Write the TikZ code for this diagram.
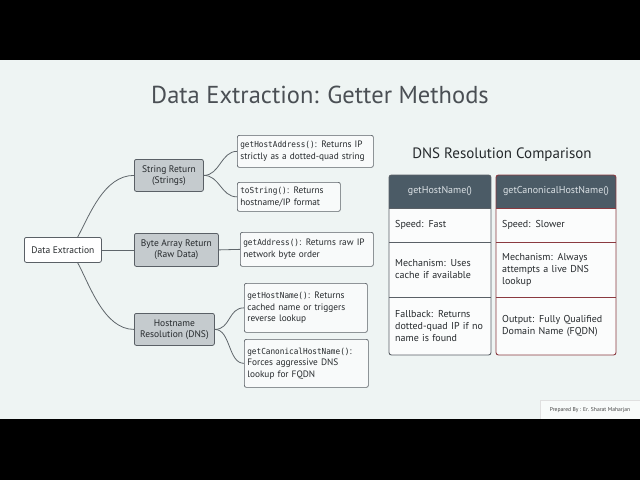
\documentclass[tikz,border=0pt]{standalone}
\usepackage{fontspec}
\setmainfont{PT Sans}
\setmonofont{DejaVu Sans Mono}[FakeStretch=0.93]
\usetikzlibrary{calc}
\newcommand\mcode[1]{{\fontsize{8.3}{11}\selectfont\ttfamily #1}}
\definecolor{bg}{HTML}{EEF4F3}
\definecolor{edgec}{HTML}{5F666B}
\definecolor{midfill}{HTML}{C5CBCE}
\definecolor{leaffill}{HTML}{F8FAFA}
\definecolor{bordc}{HTML}{5A6066}
\definecolor{txt}{HTML}{25292C}
\definecolor{titlec}{HTML}{4A4F54}
\definecolor{hdrfill}{HTML}{4B5B66}
\definecolor{hdrtxt}{HTML}{DCE2E6}
\definecolor{redbd}{HTML}{8A3A40}
\definecolor{cellfill}{HTML}{FBFCFC}
\tikzset{
  midbox/.style={draw=bordc, fill=midfill, rounded corners=2pt, line width=0.8pt, align=center,
    font=\fontsize{9.5}{11}\selectfont, text=txt, inner sep=0pt, anchor=north west},
  rootbox/.style={midbox, fill=white},
  leafbox/.style={draw=bordc, fill=leaffill, rounded corners=2pt, line width=0.7pt, align=left,
    font=\fontsize{9.3}{11.5}\selectfont, text=txt, inner xsep=3pt, inner ysep=0pt, anchor=north west},
  edge/.style={draw=edgec, line width=0.8pt},
  cell/.style={anchor=west, align=left, font=\fontsize{10}{12}\selectfont, text=txt, inner sep=0pt, text width=92pt},
  hdr/.style={font=\fontsize{10}{12}\selectfont, text=hdrtxt, inner sep=0pt}
}
\begin{document}
\begin{tikzpicture}[x=1pt,y=-1pt]
\useasboundingbox (0,0) rectangle (640,480);
\fill[bg] (0,0) rectangle (640,480);
\fill[black] (0,0) rectangle (640,60);
\fill[black] (0,419) rectangle (640,480);

\node[font=\fontsize{24.5}{28}\selectfont, text=titlec] (title) at (320,95) {Data Extraction: Getter Methods};

% tree
\node[rootbox, minimum width=77pt, minimum height=25pt] (de) at (24,237) {Data Extraction};
\node[midbox, minimum width=69pt, minimum height=32pt] (sr) at (134,159) {String Return\\(Strings)};
\node[midbox, minimum width=84pt, minimum height=33pt] (ba) at (134,233) {Byte Array Return\\(Raw Data)};
\node[midbox, minimum width=80pt, minimum height=32pt] (hr) at (134,313) {Hostname\\Resolution (DNS)};

\node[leafbox, text width=130pt, minimum height=32pt] (gha) at (237,135) {\mcode{getHostAddress()}: Returns IP\\strictly as a dotted-quad string};
\node[leafbox, text width=97pt, minimum height=29pt] (ts) at (237,182) {\mcode{toString()}: Returns\\hostname/IP format};
\node[leafbox, text width=127pt, minimum height=34pt] (ga) at (240,232) {\mcode{getAddress()}: Returns raw IP\\network byte order};
\node[leafbox, text width=117pt, minimum height=49pt] (ghn) at (244,283) {\mcode{getHostName()}: Returns\\cached name or triggers\\reverse lookup};
\node[leafbox, text width=118pt, minimum height=48pt] (gch) at (244,339) {\mcode{getCanonicalHostName()}:\\Forces aggressive DNS\\lookup for FQDN};

\coordinate (detop) at ($(de.north west)!0.69!(de.north east)$);
\coordinate (debot) at ($(de.south west)!0.69!(de.south east)$);
\draw[edge] (detop) .. controls +(12,-22) and +(-30,0) .. (sr.west);
\draw[edge] (de.east) -- (ba.west);
\draw[edge] (debot) .. controls +(12,22) and +(-30,0) .. (hr.west);
\draw[edge] (sr.east) .. controls +(16,0) and +(-16,0) .. (gha.west);
\draw[edge] (sr.east) .. controls +(16,0) and +(-16,0) .. (ts.west);
\draw[edge] (ba.east) -- (ga.west);
\draw[edge] (hr.east) .. controls +(16,0) and +(-16,0) .. (ghn.west);
\draw[edge] (hr.east) .. controls +(16,0) and +(-16,0) .. (gch.west);

% comparison
\node[font=\fontsize{15}{18}\selectfont, text=txt] (cmp) at (502,155) {DNS Resolution Comparison};

\begin{scope}
\clip[rounded corners=2.5pt] (389,175) rectangle (491,355);
\fill[cellfill] (389,175) rectangle (491,355);
\fill[hdrfill] (389,175) rectangle (491,208);
\end{scope}
\draw[bordc, line width=0.8pt] (389,208) -- (491,208) (389,242) -- (491,242) (389,297) -- (491,297);
\draw[bordc, line width=0.9pt, rounded corners=2.5pt] (389,175) rectangle (491,355);

\begin{scope}
\clip[rounded corners=2.5pt] (496,175) rectangle (616,355);
\fill[cellfill] (496,175) rectangle (616,355);
\fill[hdrfill] (496,175) rectangle (616,208);
\end{scope}
\draw[redbd, line width=0.8pt] (496,208) -- (616,208) (496,242) -- (616,242) (496,297) -- (616,297);
\draw[redbd, line width=0.9pt, rounded corners=2.5pt] (496,175) rectangle (616,355);

\node[hdr] (h1) at (440,191.5) {getHostName()};
\node[hdr] (h2) at (556,191.5) {getCanonicalHostName()};
\node[cell] (a1) at (395,225) {Speed: Fast};
\node[cell] (a2) at (395,269.5) {Mechanism: Uses\\cache if available};
\node[cell] (a3) at (395,326) {Fallback: Returns\\dotted-quad IP if no\\name is found};
\node[cell, text width=112pt] (b1) at (502,225) {Speed: Slower};
\node[cell, text width=112pt] (b2) at (502,269.5) {Mechanism: Always\\attempts a live DNS\\lookup};
\node[cell, text width=112pt] (b3) at (502,326) {Output: Fully Qualified\\Domain Name (FQDN)};

% footer
\fill[white!60!bg] (540,400) rectangle (640,419);
\draw[black!12, line width=0.4pt] (640,400) -- (540,400) -- (540,419);
\node[font=\fontsize{5.6}{6.5}\selectfont, text=black!75] (prep) at (590,410) {Prepared By : Er. Sharat Maharjan};
\end{tikzpicture}
\end{document}
